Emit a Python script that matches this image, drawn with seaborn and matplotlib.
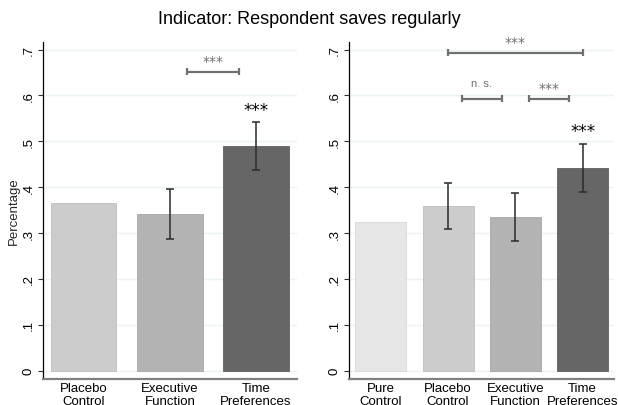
import matplotlib
matplotlib.use("Agg")
import matplotlib.pyplot as plt
import seaborn as sns
import pandas as pd
import numpy as np

sns.set_theme(style="white")
plt.rcParams['font.family'] = ['Liberation Sans', 'DejaVu Sans']

# ---- data ----
left_groups = ["Placebo\nControl", "Executive\nFunction", "Time\nPreferences"]
left_means = [0.365, 0.341, 0.490]
left_err_lo = [np.nan, 0.287, 0.438]
left_err_hi = [np.nan, 0.395, 0.542]

right_groups = ["Pure\nControl", "Placebo\nControl", "Executive\nFunction", "Time\nPreferences"]
right_means = [0.324, 0.359, 0.335, 0.442]
right_err_lo = [np.nan, 0.309, 0.282, 0.390]
right_err_hi = [np.nan, 0.409, 0.387, 0.495]

left_colors = ["#cccccc", "#b3b3b3", "#666666"]
right_colors = ["#e6e6e6", "#cccccc", "#b3b3b3", "#666666"]

y_ticks = [0, 0.1, 0.2, 0.3, 0.4, 0.5, 0.6, 0.7]
y_ticklabels = ["0", ".1", ".2", ".3", ".4", ".5", ".6", ".7"]

title = "Indicator: Respondent saves regularly"

fig = plt.figure(figsize=(6.18, 4.06), dpi=100)
fig.patch.set_facecolor("white")
axL = fig.add_axes([43/618, 1-380/406, 253.7/618, 337.3/406])
axR = fig.add_axes([349/618, 1-380/406, 265.4/618, 337.3/406])

bracket_color = "#707070"
star_font = ['DejaVu Sans']


def draw_panel(ax, groups, means, lo, hi, colors):
    df = pd.DataFrame({"group": groups, "value": means})
    sns.barplot(data=df, x="group", y="value", hue="group", palette=colors,
                order=groups, hue_order=groups, legend=False, errorbar=None,
                width=0.76, ax=ax, saturation=1, linewidth=0.6)
    for p, c in zip(ax.patches, colors):
        rgb = np.array(matplotlib.colors.to_rgb(c))
        p.set_edgecolor(tuple(rgb * 0.93))
    x = np.arange(len(groups))
    lo = np.array(lo); hi = np.array(hi)
    m = ~np.isnan(lo)
    mid = (lo + hi) / 2
    ax.errorbar(x[m], mid[m], yerr=(hi[m] - lo[m]) / 2, fmt="none",
                ecolor="#2a2a2a", elinewidth=1.1, capsize=2.6, capthick=1.1, zorder=5)
    ax.set_ylim(-0.018, 0.717)
    ax.set_xlim(-0.474, len(groups) - 1 + 0.474)
    ax.set_yticks(y_ticks)
    ax.set_yticklabels(y_ticklabels, rotation=90, va="center")
    ax.yaxis.grid(True, color="#eaf2f3", linewidth=1.0)
    ax.set_axisbelow(True)
    ax.set_xlabel("")
    ax.set_ylabel("")
    for s in ["top", "right"]:
        ax.spines[s].set_visible(False)
    ax.spines["left"].set_color("#000000")
    ax.spines["left"].set_linewidth(0.9)
    ax.spines["bottom"].set_color("#808080")
    ax.spines["bottom"].set_linewidth(1.6)
    ax.tick_params(axis="y", which="both", left=True, length=3.8, width=0.8,
                   color="#333333", labelsize=9.5, pad=2, labelcolor="#000000")
    ax.tick_params(axis="x", bottom=False, length=0, labelsize=9.5, pad=2.2, labelcolor="#000000")
    for lab in ax.get_xticklabels():
        lab.set_linespacing(1.05)


def bracket(ax, x0, x1, y, label, label_y, size=9.5, family=None):
    ax.plot([x0, x1], [y, y], color=bracket_color, lw=1.6, solid_capstyle="butt", clip_on=False, zorder=6)
    for xx in (x0, x1):
        ax.plot([xx, xx], [y - 0.0078, y + 0.0078], color=bracket_color, lw=1.6,
                solid_capstyle="butt", clip_on=False, zorder=6)
    kw = {}
    if family:
        kw["family"] = family
    ax.text((x0 + x1) / 2, label_y, label, ha="center", va="center", color=bracket_color,
            fontsize=size, clip_on=False, **kw)


draw_panel(axL, left_groups, left_means, left_err_lo, left_err_hi, left_colors)
draw_panel(axR, right_groups, right_means, right_err_lo, right_err_hi, right_colors)

axL.set_ylabel("Percentage", fontsize=9.5, labelpad=2)

# significance stars above bars
axL.text(2, 0.568, "***", ha="center", va="center", fontsize=12, color="#000000", family=star_font)
axR.text(3, 0.522, "***", ha="center", va="center", fontsize=12, color="#000000", family=star_font)

bracket(axL, 1.2, 1.8, 0.652, "***", 0.676, size=10, family=star_font)
bracket(axR, 1.0, 3.0, 0.693, "***", 0.717, size=10, family=star_font)
bracket(axR, 1.2, 1.8, 0.5925, "n. s.", 0.628, size=8)
bracket(axR, 2.2, 2.8, 0.5925, "***", 0.616, size=10, family=star_font)

fig.text(0.5, 1 - 20/406, title, ha="center", va="center", fontsize=13, color="#000000")

fig.savefig("out.png", dpi=100, facecolor="white")
